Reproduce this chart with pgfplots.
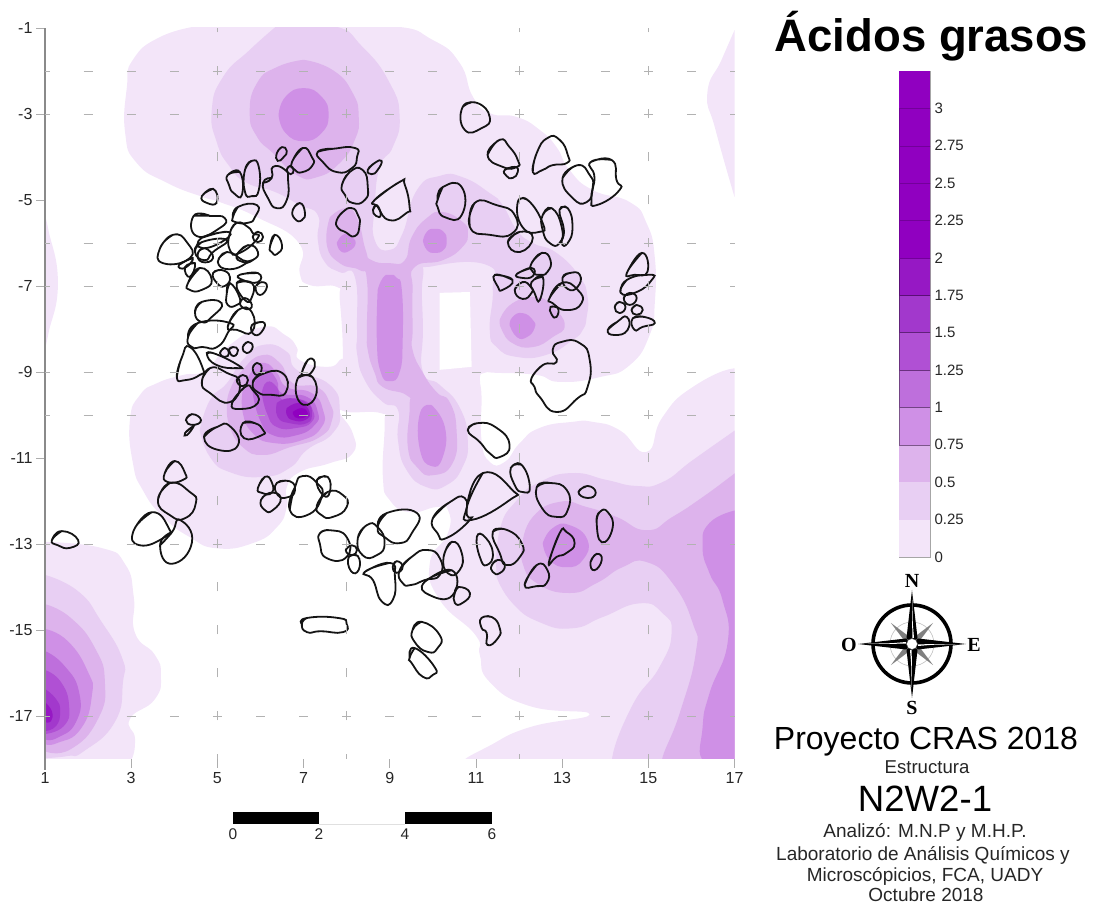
\documentclass[border=0pt]{standalone}
\usepackage{fontspec}
\setmainfont{Liberation Sans}
\newfontfamily\compassfont{Liberation Serif}
\usepackage{pgfplots}
\pgfplotsset{compat=1.18}
\definecolor{ca}{HTML}{F3E5F9}
\definecolor{cb}{HTML}{E8CFF3}
\definecolor{cc}{HTML}{DDB3EC}
\definecolor{cd}{HTML}{CF90E6}
\definecolor{ce}{HTML}{BE6FDC}
\definecolor{cf}{HTML}{B050D4}
\definecolor{cg}{HTML}{A238CC}
\definecolor{ch}{HTML}{9618C4}
\definecolor{ci}{HTML}{9000C0}
\definecolor{tickgray}{HTML}{8A8A8A}
\newcommand{\band}[2]{\addplot[fill=#1,draw=none,smooth,tension=0.9,forget plot] coordinates {#2};}
% a stone outline: the second point is repeated at the end so that the curve closes without a corner
\def\stone#1{\stonei#1\relax}
\def\stonei(#1)(#2)#3\relax{\addplot[black!92,line width=1.8pt,smooth,tension=1,forget plot] coordinates {(#1)(#2)#3(#2)};}
\newcommand{\fs}[1]{\fontsize{#1}{#1}\selectfont}
\begin{document}
\begin{tikzpicture}
\path[use as bounding box] (0,0) rectangle (1095pt,909pt);
\begin{axis}[
  at={(45pt,150pt)},anchor=south west,
  scale only axis,width=689.5pt,height=731pt,
  xmin=1,xmax=17,ymin=-18,ymax=-1,
  axis lines=left,
  axis line style={-,draw=tickgray,line width=1.3pt},
  x axis line style={draw=none},
  tick align=outside,
  axis on top,
  major tick length=9pt,
  tick style={draw=tickgray!70,line width=.6pt},
  xtick={1,3,5,7,9,11,13,15,17},
  xticklabels={1,3,5,7,9,11,13,15,17},
  ytick={-1,-3,-5,-7,-9,-11,-13,-15,-17},
  yticklabels={-1,-3,-5,-7,-9,-11,-13,-15,-17},
  yticklabel style={font=\fs{16},text=black!85},
  xticklabel style={font=\fs{16},text=black!85,yshift=-1pt},
  extra x ticks={5,8,12,15},
  extra x tick labels={},
  extra y ticks={-2,-3,-6,-7,-9,-10,-13,-17},
  extra y tick labels={},
  extra tick style={grid=major,tick style={draw=none}},
  major x grid style={draw=black!30,line width=.6pt,dash pattern=on 9pt off 34pt,dash phase=4.5pt},
  major y grid style={draw=black!30,line width=.6pt,dash pattern=on 9pt off 34.1pt,dash phase=4.5pt},
]
% ---- level 0 to 0.25
\band{ca}{(4.59,-0.95)(6.8,-0.95)(9.0,-0.95)(10.0,-1.28)(10.62,-1.81)(10.93,-2.6)(11.32,-2.98)(11.95,-3.07)(12.48,-3.37)(12.87,-3.77)(13.17,-4.3)(13.71,-4.77)(14.57,-5.05)(14.96,-5.54)(15.15,-6.33)(15.15,-7.4)(15.03,-8.14)(14.57,-8.84)(13.87,-9.12)(12.94,-9.23)(12.41,-9.07)(11.48,-9.02)(11.2,-9.02)(11.09,-9.15)(11.13,-9.58)(11.13,-10.58)(11.32,-11.09)(11.67,-11.09)(12.02,-10.65)(12.48,-10.3)(13.24,-10.16)(13.71,-10.16)(14.33,-10.35)(14.96,-10.86)(15.33,-10.05)(16.03,-9.35)(17.05,-8.91)(17.05,-9.3)(17.05,-17.8)(17.05,-18.07)(11.2,-18.07)(10.7,-18.07)(11.3,-17.7)(12.25,-17.26)(13.64,-16.96)(12.25,-16.77)(11.32,-16.21)(11.09,-15.58)(10.99,-15.12)(10.16,-14.3)(9.93,-13.44)(10.35,-12.75)(10.35,-12.21)(10.09,-12.14)(9.46,-12.26)(9,-11.98)(8.84,-11.44)(8.88,-10.2)(8.8,-9.96)(8.1,-9.94)(7.84,-9.93)(8.14,-10.42)(8.14,-10.89)(7.61,-11.12)(6.91,-11.33)(6.61,-11.68)(6.61,-12.14)(6.38,-12.61)(5.82,-12.98)(4.99,-13.1)(4.36,-12.84)(3.74,-12.37)(3.27,-11.75)(3.04,-11.12)(2.97,-10.12)(3.2,-9.54)(3.6,-9.26)(4.2,-9.07)(4.71,-8.96)(5.29,-8.37)(6.06,-7.95)(6.57,-8.14)(6.84,-8.42)(6.91,-8.72)(7.54,-8.88)(7.84,-8.72)(7.91,-8.49)(7.84,-7.33)(7.77,-7.02)(7.15,-6.98)(6.91,-6.7)(6.89,-6)(5.92,-5.4)(5.06,-5.05)(4.66,-4.93)(3.83,-4.6)(3.13,-4.14)(2.86,-3.44)(2.9,-2.37)(3.04,-1.74)(3.67,-1.21)(4.59,-0.95)}
\addplot[fill=white,draw=none,forget plot] coordinates {(10.16,-7.16)(10.86,-7.14)(10.9,-8.88)(10.16,-8.95)} --cycle;
\band{ca}{(1,-5.4)(1.08,-5.7)(1.3,-6.93)(1.08,-8.1)(1,-8.45)}
\band{ca}{(17,-1.05)(16.7,-1.74)(16.37,-2.51)(16.56,-3.37)(17,-4.93)}
\band{ca}{(0.95,-12.95)(2.3,-13.09)(2.86,-13.47)(3.06,-14.23)(3.09,-15.07)(3.55,-15.58)(3.69,-16.05)(3.55,-16.61)(2.97,-17.07)(3.09,-17.54)(2.97,-18.07)(2.7,-18.07)(0.95,-18.07)}
% ---- level 0.25 to 0.5
\band{cb}{(6.38,-0.95)(7.68,-0.95)(8.37,-1.44)(9,-2.28)(9.23,-3.07)(9.07,-3.77)(8.77,-4.23)(8.65,-5.16)(8.65,-5.93)(9,-6.16)(9.3,-5.77)(9.63,-4.77)(10.16,-4.44)(10.69,-4.47)(11.32,-4.84)(11.62,-5.12)(11.95,-5.7)(12.32,-6)(12.87,-6.23)(13.41,-6.79)(13.59,-7.26)(13.57,-7.72)(13.48,-8.02)(13.24,-8.26)(12.64,-8.6)(11.95,-8.65)(11.48,-8.42)(11.32,-8.02)(11.39,-7.09)(11.25,-6.51)(10,-6.54)(9.77,-6.8)(9.77,-8.02)(9.77,-9)(10.16,-9.3)(10.62,-9.82)(10.81,-10.58)(10.69,-11.21)(10.32,-11.63)(9.86,-11.68)(9.39,-11.28)(9.19,-10.58)(9.19,-9.88)(8.84,-9.7)(8.42,-9.19)(8.24,-8.56)(8.24,-8.02)(8.19,-6.79)(7.84,-6.68)(7.49,-6.44)(7.33,-5.93)(7.33,-5.35)(6.91,-5.12)(6.33,-4.81)(5.68,-4.6)(5.29,-4.23)(4.99,-3.67)(4.87,-2.91)(5.13,-2.14)(5.75,-1.51)(6.38,-0.95)}
\band{cb}{(4.59,-10.35)(4.83,-9.65)(5.22,-9.26)(5.59,-8.72)(6.06,-8.37)(6.61,-8.53)(6.84,-8.95)(7.61,-9.3)(7.84,-9.88)(7.68,-10.42)(7.08,-10.81)(6.68,-11.23)(6.06,-11.44)(5.29,-11.33)(4.83,-10.98)(4.59,-10.35)}
\band{cb}{(11.48,-13.77)(11.55,-12.68)(11.95,-11.98)(12.48,-11.56)(13.24,-11.35)(14.03,-11.51)(14.73,-11.65)(15.33,-11.56)(16.03,-11.05)(16.95,-10.4)(17.05,-10.33)(17.05,-10.7)(17.05,-17.8)(17.05,-18.07)(14.5,-18.07)(14.15,-18.07)(14.61,-16.79)(15.26,-15.86)(15.54,-15.07)(15.33,-14.61)(14.8,-14.38)(13.94,-14.7)(13.24,-14.96)(12.48,-14.82)(11.85,-14.38)(11.48,-13.77)}
\band{cb}{(1,-13.72)(1.77,-14.1)(2.3,-14.79)(2.79,-15.65)(2.81,-16.21)(2.62,-17.14)(1.9,-17.82)(1.53,-17.93)(1,-17.98)}
% ---- level 0.5 to 0.75
\band{cc}{(7.61,-5.4)(8,-5.19)(8.26,-5.47)(8.44,-6.16)(8.58,-6.4)(9,-6.47)(9.35,-6.4)(9.51,-5.86)(9.86,-5.42)(10.23,-5.28)(10.69,-5.51)(10.81,-5.77)(10.69,-6.09)(10.23,-6.4)(9.58,-6.56)(9.53,-7.09)(9.53,-8.02)(9.53,-8.49)(9.77,-9.02)(10.09,-9.47)(10.39,-9.7)(10.55,-10.35)(10.46,-11.12)(10,-11.4)(9.65,-11.23)(9.42,-10.75)(9.46,-9.82)(9.39,-9.54)(8.84,-9.35)(8.65,-9.02)(8.49,-8.49)(8.47,-8.02)(8.47,-6.86)(8.3,-6.63)(7.84,-6.47)(7.54,-6.05)(7.61,-5.4)}
\band{cc}{(11.55,-7.79)(11.85,-7.4)(12.41,-7.26)(12.78,-7.49)(13.06,-7.91)(12.78,-8.19)(12.32,-8.42)(11.85,-8.33)(11.6,-8.02)(11.55,-7.79)}
\band{cc}{(7,-1.74)(7.68,-1.98)(8.14,-2.51)(8.28,-3.07)(8.19,-3.6)(7.84,-4.14)(7.31,-4.47)(6.84,-4.42)(6.29,-3.91)(5.92,-3.53)(5.75,-2.98)(5.92,-2.28)(6.38,-1.91)(7,-1.74)}
\band{cc}{(5.22,-9.82)(5.29,-9.42)(5.59,-8.95)(6.03,-8.61)(6.45,-8.79)(6.75,-9.26)(7.31,-9.35)(7.61,-9.72)(7.66,-10.12)(7.38,-10.51)(6.68,-10.75)(6.06,-10.93)(5.59,-10.75)(5.29,-10.28)(5.22,-9.82)}
\band{cc}{(12.08,-12.98)(12.32,-12.37)(12.94,-12.02)(13.57,-12.14)(14.26,-12.37)(14.96,-12.68)(15.56,-12.37)(16.26,-11.91)(16.95,-11.4)(17.05,-11.33)(17.05,-11.7)(17.05,-17.8)(17.05,-18.07)(15.6,-18.07)(15.31,-18.07)(15.73,-16.93)(16.1,-15.54)(16.03,-14.84)(15.56,-13.91)(14.96,-13.42)(14.4,-13.54)(13.8,-13.91)(13.17,-14.14)(12.41,-13.91)(12.08,-13.44)(12.08,-12.98)}
\band{cc}{(1,-14.4)(1.6,-14.72)(2.16,-15.42)(2.39,-16.21)(2.23,-17.07)(1.6,-17.77)(1,-17.82)}
% ---- level 0.75 to 1
\band{cd}{(7.77,-6)(7.91,-5.81)(8.07,-5.84)(8.21,-6)(8.05,-6.19)(7.86,-6.19)(7.77,-6)}
\band{cd}{(9.77,-5.95)(9.86,-5.74)(10.04,-5.67)(10.25,-5.74)(10.32,-5.95)(10.25,-6.16)(10.04,-6.23)(9.86,-6.16)(9.77,-5.95)}
\band{cd}{(8.72,-7.09)(8.84,-6.81)(9,-6.74)(9.16,-6.81)(9.28,-7.09)(9.3,-8.26)(9.23,-9)(9,-9.21)(8.79,-9)(8.7,-8.26)(8.72,-7.09)}
\band{cd}{(9.97,-9.77)(10.28,-10.28)(10.23,-10.98)(9.97,-11.19)(9.7,-10.81)(9.7,-9.96)(9.97,-9.77)}
\band{cd}{(11.78,-7.91)(11.85,-7.72)(12.08,-7.63)(12.32,-7.79)(12.36,-7.98)(12.18,-8.19)(11.95,-8.19)(11.78,-7.91)}
\band{cd}{(6.42,-3.02)(6.58,-2.6)(7,-2.4)(7.42,-2.6)(7.58,-3.02)(7.42,-3.44)(7,-3.63)(6.58,-3.44)(6.42,-3.02)}
\band{cd}{(5.59,-9.42)(5.82,-8.95)(6.1,-8.79)(6.38,-9.02)(6.61,-9.35)(7.19,-9.49)(7.45,-9.88)(7.42,-10.28)(6.98,-10.58)(6.29,-10.65)(5.82,-10.42)(5.59,-9.95)(5.59,-9.42)}
\band{cd}{(17.05,-12.21)(16.42,-12.51)(16.26,-13.07)(16.42,-13.68)(16.72,-14.3)(16.84,-15.3)(16.42,-16.47)(16.26,-17.26)(16.3,-18.07)(17.05,-18.07)}
\band{cd}{(12.55,-12.98)(12.78,-12.63)(13.17,-12.56)(13.59,-12.91)(13.48,-13.37)(13.1,-13.54)(12.71,-13.37)(12.55,-12.98)}
\band{cd}{(1,-14.98)(1.53,-15.26)(2,-15.98)(2.09,-16.51)(1.83,-17.3)(1.28,-17.63)(1,-17.65)}
% ---- level 1 to 1.25
\band{ce}{(5.82,-9.49)(5.92,-9.12)(6.15,-8.95)(6.38,-9.19)(6.5,-9.49)(7.08,-9.58)(7.33,-9.93)(7.26,-10.23)(6.84,-10.47)(6.29,-10.47)(5.99,-10.12)(5.82,-9.49)}
\band{ce}{(1,-15.49)(1.44,-15.82)(1.79,-16.44)(1.72,-17.14)(1.28,-17.51)(1,-17.54)}
% ---- level 1.25 to 1.5
\band{cf}{(6.03,-9.49)(6.15,-9.23)(6.38,-9.35)(6.52,-9.65)(6.98,-9.65)(7.21,-9.88)(7.19,-10.16)(6.84,-10.3)(6.38,-10.28)(6.15,-9.96)(6.03,-9.49)}
\band{cf}{(1,-15.93)(1.37,-16.21)(1.56,-16.77)(1.44,-17.23)(1,-17.42)}
% ---- level 1.5 to 1.75
\band{cg}{(6.38,-9.72)(6.68,-9.61)(7.08,-9.72)(7.19,-9.96)(7.08,-10.19)(6.68,-10.19)(6.4,-10.05)(6.38,-9.72)}
\band{cg}{(1,-16.37)(1.26,-16.61)(1.35,-16.89)(1.26,-17.23)(1,-17.35)}
% ---- level 1.75 to 2
\band{ch}{(6.61,-9.84)(6.91,-9.72)(7.14,-9.93)(7.03,-10.12)(6.75,-10.12)(6.61,-10)(6.61,-9.84)}
\band{ch}{(1,-16.68)(1.16,-16.89)(1.14,-17.12)(1,-17.14)}
% ---- level above 2
\band{ci}{(6.75,-9.93)(6.96,-9.84)(7.1,-9.96)(6.98,-10.07)(6.8,-10.05)(6.75,-9.93)}
% ---- stones
\stone{(6.38,-3.91)(6.5,-3.77)(6.61,-3.86)(6.54,-4)(6.4,-4.09)(6.38,-3.91)}
\stone{(6.73,-4.12)(6.98,-3.79)(7.19,-4)(7.21,-4.19)(6.98,-4.35)(6.8,-4.3)(6.73,-4.12)}
\stone{(6.61,-4.3)(6.68,-4.21)(6.77,-4.3)(6.7,-4.4)(6.61,-4.3)}
\stone{(7.33,-3.88)(7.68,-3.81)(8.19,-3.79)(8.24,-4)(8.12,-4.26)(7.77,-4.35)(7.45,-4.12)(7.33,-3.88)}
\stone{(5.64,-4.3)(5.8,-4.09)(5.96,-4.23)(5.96,-4.77)(5.8,-4.91)(5.64,-4.81)(5.64,-4.3)}
\stone{(5.24,-4.42)(5.52,-4.35)(5.57,-4.88)(5.38,-4.84)(5.27,-4.65)(5.24,-4.42)}
\stone{(6.06,-4.6)(6.26,-4.49)(6.29,-4.23)(6.57,-4.3)(6.64,-4.53)(6.61,-5)(6.38,-5.19)(6.17,-4.95)(6.06,-4.6)}
\stone{(4.64,-4.91)(4.9,-4.74)(4.99,-5.05)(4.76,-5.07)(4.64,-4.91)}
\stone{(6.75,-5.23)(6.91,-5.07)(7.03,-5.28)(6.96,-5.47)(6.8,-5.44)(6.75,-5.23)}
\stone{(5.36,-5.4)(5.48,-5.16)(5.92,-5.12)(5.87,-5.4)(5.71,-5.53)(5.41,-5.51)(5.36,-5.4)}
\stone{(4.45,-5.37)(4.83,-5.37)(5.17,-5.42)(5.06,-5.65)(4.52,-5.84)(4.45,-5.37)}
\stone{(7.77,-5.47)(7.91,-5.28)(8.12,-5.19)(8.26,-5.35)(8.3,-5.58)(8.19,-5.84)(7.96,-5.74)(7.8,-5.65)(7.77,-5.47)}
\stone{(8.65,-5)(9.23,-4.58)(9.35,-4.65)(9.46,-5.16)(9.39,-5.3)(9,-5.47)(8.72,-5.16)(8.65,-5)}
\stone{(8.61,-5.23)(8.7,-5.12)(8.79,-5.35)(8.68,-5.37)(8.61,-5.23)}
\stone{(8.49,-4.3)(8.65,-4.14)(8.81,-4.09)(8.72,-4.3)(8.58,-4.4)(8.49,-4.3)}
\stone{(7.89,-4.65)(8.07,-4.35)(8.37,-4.3)(8.49,-4.7)(8.42,-5)(8.14,-5.07)(7.96,-4.88)(7.89,-4.65)}
\stone{(10.69,-2.84)(11.02,-2.74)(11.32,-3.07)(11.13,-3.33)(10.74,-3.37)(10.69,-2.84)}
\stone{(11.27,-3.95)(11.55,-3.6)(11.78,-3.77)(11.97,-4.07)(11.95,-4.23)(11.62,-4.23)(11.27,-3.95)}
\stone{(11.67,-4.3)(11.9,-4.23)(11.97,-4.35)(11.85,-4.49)(11.71,-4.44)(11.67,-4.3)}
\stone{(12.32,-4.35)(12.41,-3.91)(12.66,-3.56)(12.94,-3.6)(13.13,-3.95)(13.11,-4.14)(12.78,-4.19)(12.55,-4.3)(12.32,-4.35)}
\stone{(13.01,-4.49)(13.36,-4.19)(13.64,-4.42)(13.71,-4.7)(13.57,-5.05)(13.24,-4.95)(13.01,-4.49)}
\stone{(13.66,-4.12)(14.15,-4.07)(14.26,-4.53)(14.33,-4.77)(13.8,-5.12)(13.68,-4.95)(13.75,-4.47)(13.66,-4.12)}
\stone{(10.11,-5)(10.23,-4.7)(10.67,-4.7)(10.67,-5.35)(10.28,-5.4)(10.11,-5.16)(10.11,-5)}
\stone{(10.86,-5.63)(10.97,-5.07)(11.48,-5.12)(11.9,-5.35)(11.85,-5.77)(11.32,-5.81)(10.86,-5.63)}
\stone{(11.97,-5.05)(12.2,-5)(12.55,-5.54)(12.48,-5.74)(12.08,-5.63)(11.97,-5.05)}
\stone{(12.55,-5.35)(12.76,-5.19)(12.99,-5.63)(12.94,-6)(12.71,-6)(12.55,-5.7)(12.55,-5.35)}
\stone{(12.94,-5.23)(13.13,-5.19)(13.24,-5.63)(13.13,-6)(12.99,-6)(13.04,-5.7)(12.94,-5.23)}
\stone{(11.74,-5.98)(12.02,-5.74)(12.32,-5.88)(12.02,-6.21)(11.74,-5.98)}
\stone{(12.29,-6.47)(12.53,-6.23)(12.73,-6.4)(12.66,-6.67)(12.48,-6.74)(12.32,-6.67)(12.29,-6.47)}
\stone{(11.95,-6.72)(12.29,-6.58)(12.32,-6.77)(12.06,-6.81)(11.95,-6.72)}
\stone{(11.44,-6.74)(11.85,-6.86)(11.62,-7.09)(11.51,-7.02)(11.44,-6.74)}
\stone{(11.9,-7.09)(12.08,-6.91)(12.27,-7.02)(12.29,-7.16)(12.08,-7.3)(11.9,-7.09)}
\stone{(12.29,-6.91)(12.55,-6.79)(12.48,-7.33)(12.36,-7.16)(12.29,-6.91)}
\stone{(12.71,-7.28)(12.99,-6.93)(13.36,-7.09)(13.45,-7.4)(13.1,-7.56)(12.78,-7.4)(12.71,-7.28)}
\stone{(13.01,-6.81)(13.17,-6.7)(13.41,-6.74)(13.36,-7.02)(13.13,-7.07)(13.01,-6.81)}
\stone{(12.73,-7.49)(12.9,-7.51)(12.87,-7.72)(12.76,-7.67)(12.73,-7.49)}
\stone{(14.5,-6.7)(14.85,-6.23)(14.98,-6.67)(14.68,-6.74)(14.5,-6.7)}
\stone{(14.36,-7.16)(14.5,-6.86)(15.03,-6.74)(15.08,-6.86)(14.73,-7.14)(14.36,-7.16)}
\stone{(14.43,-7.28)(14.57,-7.16)(14.73,-7.28)(14.57,-7.44)(14.43,-7.28)}
\stone{(14.22,-7.49)(14.33,-7.37)(14.47,-7.49)(14.33,-7.63)(14.22,-7.49)}
\stone{(14.61,-7.56)(14.73,-7.44)(14.87,-7.56)(14.73,-7.67)(14.61,-7.56)}
\stone{(14.06,-8.02)(14.27,-7.84)(14.5,-7.72)(14.52,-8.02)(14.22,-8.14)(14.06,-8.02)}
\stone{(14.64,-7.75)(14.91,-7.72)(15.15,-7.86)(14.87,-7.95)(14.68,-8.02)(14.64,-7.75)}
\stone{(12.29,-9.14)(12.55,-8.84)(12.87,-8.77)(12.78,-8.49)(12.99,-8.3)(13.41,-8.33)(13.64,-8.72)(13.59,-9.35)(13.36,-9.61)(12.87,-9.93)(12.48,-9.58)(12.36,-9.35)(12.29,-9.14)}
\stone{(10.81,-10.35)(11.04,-10.19)(11.48,-10.3)(11.78,-10.7)(11.55,-10.98)(11.32,-10.89)(11.09,-10.63)(10.81,-10.35)}
\stone{(11.81,-11.23)(12.06,-11.16)(12.25,-11.68)(12.08,-11.79)(11.9,-11.63)(11.81,-11.23)}
\stone{(12.41,-11.68)(12.71,-11.58)(13.11,-11.75)(13.13,-12.21)(12.87,-12.37)(12.53,-12.16)(12.41,-11.68)}
\stone{(13.38,-11.79)(13.59,-11.65)(13.78,-11.81)(13.59,-11.93)(13.38,-11.79)}
\stone{(13.8,-12.49)(13.87,-12.26)(14.06,-12.26)(14.17,-12.63)(13.92,-12.96)(13.8,-12.49)}
\stone{(12.69,-13.44)(12.94,-12.75)(13.1,-12.72)(13.29,-12.98)(13.1,-13.21)(12.87,-13.3)(12.69,-13.44)}
\stone{(13.66,-13.42)(13.8,-13.23)(13.92,-13.37)(13.75,-13.61)(13.66,-13.42)}
\stone{(12.13,-13.95)(12.41,-13.49)(12.66,-13.61)(12.64,-13.91)(12.41,-13.98)(12.13,-13.95)}
\stone{(10.79,-12.14)(11.16,-11.35)(11.85,-11.75)(11.78,-11.98)(10.9,-12.44)(10.79,-12.14)}
\stone{(10,-12.4)(10.39,-12.03)(10.74,-11.93)(10.79,-12.33)(10.86,-12.44)(10.32,-12.86)(10.11,-12.75)(10,-12.4)}
\stone{(8.72,-12.61)(8.93,-12.28)(9.63,-12.28)(9.51,-12.75)(9.23,-12.98)(8.88,-12.84)(8.72,-12.61)}
\stone{(8.26,-12.86)(8.47,-12.56)(8.72,-12.61)(8.88,-12.98)(8.7,-13.26)(8.37,-13.26)(8.26,-12.86)}
\stone{(11.02,-12.84)(11.16,-12.79)(11.39,-13.19)(11.25,-13.49)(11.09,-13.3)(11.02,-12.84)}
\stone{(11.39,-12.72)(11.71,-12.67)(12.06,-12.98)(12.02,-13.3)(11.71,-13.49)(11.55,-13.21)(11.39,-12.72)}
\stone{(11.37,-13.49)(11.51,-13.37)(11.67,-13.49)(11.55,-13.68)(11.39,-13.65)(11.37,-13.49)}
\stone{(10.25,-13.3)(10.44,-12.95)(10.67,-13.21)(10.62,-13.61)(10.35,-13.68)(10.25,-13.3)}
\stone{(9.23,-13.61)(9.51,-13.3)(9.86,-13.14)(10.16,-13.33)(10.16,-13.72)(9.81,-13.84)(9.51,-13.95)(9.3,-13.91)(9.23,-13.61)}
\stone{(9.81,-13.88)(10.44,-13.61)(10.46,-14.19)(9.93,-14.19)(9.81,-13.88)}
\stone{(10.51,-14.14)(10.6,-14)(10.86,-14.14)(10.69,-14.37)(10.51,-14.37)(10.51,-14.14)}
\stone{(9.07,-13.53)(9.16,-13.4)(9.3,-13.53)(9.16,-13.67)(9.07,-13.53)}
\stone{(8.42,-13.65)(9,-13.44)(9.12,-13.77)(9.07,-14.3)(8.81,-14.33)(8.61,-13.84)(8.42,-13.65)}
\stone{(7.38,-12.75)(7.61,-12.68)(8,-12.84)(8,-13.3)(7.54,-13.33)(7.38,-13)(7.38,-12.75)}
\stone{(7.98,-13.14)(8.12,-13.03)(8.24,-13.14)(8.12,-13.26)(7.98,-13.14)}
\stone{(8.05,-13.3)(8.26,-13.28)(8.28,-13.6)(8.1,-13.63)(8.05,-13.3)}
\stone{(9.53,-15)(9.74,-14.81)(10.16,-15.12)(10.11,-15.42)(9.88,-15.51)(9.58,-15.28)(9.53,-15)}
\stone{(9.46,-15.65)(9.58,-15.42)(10.04,-15.86)(9.99,-16.05)(9.77,-16.09)(9.51,-15.77)(9.46,-15.65)}
\stone{(11.13,-14.72)(11.37,-14.7)(11.55,-14.95)(11.51,-15.19)(11.27,-15.35)(11.25,-15.07)(11.13,-14.95)(11.13,-14.72)}
\stone{(6.96,-14.86)(7.08,-14.72)(7.8,-14.72)(8,-14.86)(7.91,-15.05)(7.4,-15.03)(7.08,-15.05)(6.96,-14.86)}
\stone{(6.96,-9.02)(7.1,-8.72)(7.26,-8.77)(7.19,-9)(7.03,-9.07)(6.96,-9.02)}
\stone{(6.87,-9.14)(7.21,-9.12)(7.26,-9.61)(6.91,-9.7)(6.87,-9.14)}
\stone{(5.82,-9.26)(5.99,-9.07)(6.5,-9.02)(6.59,-9.47)(6.22,-9.53)(5.94,-9.47)(5.82,-9.26)}
\stone{(5.34,-9.72)(5.64,-9.35)(5.82,-9.42)(5.94,-9.72)(5.52,-9.86)(5.34,-9.72)}
\stone{(5.45,-9.19)(5.59,-9.07)(5.71,-9.19)(5.59,-9.33)(5.45,-9.19)}
\stone{(5.82,-8.91)(5.92,-8.79)(6.03,-8.91)(5.92,-9.07)(5.82,-8.91)}
\stone{(4.64,-9.23)(4.83,-8.91)(5.22,-9.02)(5.52,-9.26)(5.29,-9.7)(4.83,-9.49)(4.64,-9.23)}
\stone{(4.76,-8.6)(4.9,-8.56)(5.48,-8.84)(5.45,-8.91)(4.99,-8.84)(4.76,-8.6)}
\stone{(4.06,-9.12)(4.18,-8.65)(4.36,-8.42)(4.66,-8.91)(4.59,-9.07)(4.25,-9.19)(4.06,-9.12)}
\stone{(5.06,-8.56)(5.17,-8.44)(5.27,-8.56)(5.17,-8.65)(5.06,-8.56)}
\stone{(5.27,-8.49)(5.36,-8.42)(5.48,-8.49)(5.38,-8.63)(5.27,-8.49)}
\stone{(5.59,-8.42)(5.71,-8.3)(5.82,-8.42)(5.68,-8.56)(5.59,-8.42)}
\stone{(3.67,-6.12)(3.97,-5.81)(4.29,-5.98)(4.36,-6.35)(3.74,-6.47)(3.67,-6.12)}
\stone{(4.11,-6.51)(4.43,-6.35)(4.25,-6.58)(4.11,-6.51)}
\stone{(4.25,-6.56)(4.48,-6.47)(4.36,-6.79)(4.25,-6.56)}
\stone{(4.32,-6.93)(4.59,-6.58)(4.87,-6.86)(4.64,-7.09)(4.36,-7.09)(4.32,-6.93)}
\stone{(4.9,-6.7)(5.1,-6.63)(5.29,-6.79)(5.17,-7)(4.99,-6.93)(4.9,-6.7)}
\stone{(4.64,-5.88)(5.22,-5.74)(5.17,-5.93)(4.66,-6.12)(4.64,-5.88)}
\stone{(4.48,-6.21)(4.64,-5.98)(5.22,-5.93)(4.9,-6.21)(4.71,-6.4)(4.48,-6.21)}
\stone{(5.29,-5.77)(5.45,-5.53)(5.71,-5.63)(5.82,-5.77)(5.94,-5.88)(5.52,-6.23)(5.29,-6.16)(5.29,-5.77)}
\stone{(5.82,-5.86)(5.94,-5.74)(6.06,-5.86)(5.94,-5.98)(5.82,-5.86)}
\stone{(6.22,-6.09)(6.33,-5.81)(6.5,-6.05)(6.38,-6.26)(6.26,-6.21)(6.22,-6.09)}
\stone{(5.45,-6.28)(5.71,-6.05)(5.94,-6.21)(5.82,-6.4)(5.59,-6.44)(5.45,-6.28)}
\stone{(5.01,-6.44)(5.22,-6.21)(5.59,-6.4)(5.71,-6.44)(5.29,-6.61)(5.01,-6.44)}
\stone{(4.55,-6.23)(4.71,-6.12)(4.9,-6.35)(4.64,-6.44)(4.55,-6.23)}
\stone{(5.52,-6.74)(5.94,-6.7)(5.94,-6.91)(5.59,-6.86)(5.52,-6.74)}
\stone{(5.45,-6.93)(5.8,-6.93)(5.8,-7.26)(5.64,-7.33)(5.45,-6.93)}
\stone{(5.89,-7.02)(6.03,-6.91)(6.15,-7.02)(5.99,-7.21)(5.89,-7.02)}
\stone{(5.22,-7.16)(5.29,-6.93)(5.52,-7.28)(5.45,-7.44)(5.24,-7.44)(5.22,-7.16)}
\stone{(5.52,-7.4)(5.64,-7.28)(5.8,-7.44)(5.68,-7.54)(5.52,-7.4)}
\stone{(4.48,-7.61)(4.64,-7.37)(5.1,-7.4)(4.87,-7.72)(4.64,-7.84)(4.48,-7.61)}
\stone{(5.24,-7.95)(5.48,-7.56)(5.8,-7.61)(5.8,-8.07)(5.45,-8.02)(5.24,-7.95)}
\stone{(5.8,-7.91)(6.06,-7.84)(6.06,-8.02)(5.87,-8.14)(5.8,-7.91)}
\stone{(4.32,-8.19)(4.55,-7.86)(5.29,-7.86)(5.24,-8.09)(4.99,-8.42)(4.66,-8.42)(4.41,-8.42)(4.32,-8.19)}
\stone{(4.27,-10.12)(4.41,-9.98)(4.62,-10.12)(4.43,-10.23)(4.27,-10.12)}
\stone{(4.25,-10.42)(4.41,-10.28)(4.43,-10.3)(4.29,-10.47)(4.25,-10.42)}
\stone{(4.69,-10.51)(4.99,-10.28)(5.29,-10.26)(5.48,-10.7)(5.01,-10.81)(4.69,-10.51)}
\stone{(5.59,-10.19)(5.87,-10.19)(6.06,-10.35)(6.03,-10.47)(5.62,-10.54)(5.59,-10.19)}
\stone{(3.78,-11.35)(4.01,-11.07)(4.25,-11.35)(4.2,-11.51)(3.85,-11.56)(3.78,-11.35)}
\stone{(3.62,-11.98)(3.9,-11.58)(4.36,-11.79)(4.5,-12.05)(4.25,-12.4)(3.9,-12.33)(3.62,-11.98)}
\stone{(3.06,-12.68)(3.48,-12.26)(3.87,-12.63)(3.78,-12.84)(3.2,-13.03)(3.06,-12.68)}
\stone{(3.67,-13.03)(3.95,-12.72)(4.13,-12.44)(4.41,-12.96)(3.95,-13.46)(3.67,-13.03)}
\stone{(5.94,-11.7)(6.1,-11.44)(6.26,-11.56)(6.26,-11.81)(6.03,-11.81)(5.94,-11.7)}
\stone{(6.01,-11.98)(6.22,-11.81)(6.47,-11.93)(6.29,-12.21)(6.1,-12.21)(6.01,-11.98)}
\stone{(6.38,-11.58)(6.68,-11.54)(6.8,-11.75)(6.64,-11.91)(6.4,-11.86)(6.38,-11.58)}
\stone{(6.68,-12.21)(6.8,-11.68)(6.98,-11.42)(7.31,-11.58)(7.42,-11.91)(7.08,-12.33)(6.68,-12.21)}
\stone{(7.31,-11.51)(7.56,-11.44)(7.61,-11.79)(7.45,-11.86)(7.31,-11.51)}
\stone{(7.31,-12.1)(7.56,-11.79)(7.91,-11.86)(8,-12.14)(7.68,-12.37)(7.42,-12.33)(7.31,-12.1)}
\stone{(1.16,-12.91)(1.39,-12.7)(1.77,-12.91)(1.58,-13.09)(1.3,-13.03)(1.16,-12.91)}
\end{axis}
% ---- colour bar
\begin{axis}[
  at={(899pt,352pt)},anchor=south west,
  scale only axis,width=31pt,height=486pt,
  xmin=0,xmax=1,ymin=0,ymax=3.25,
  xtick=\empty,
  ytick={0,0.25,0.5,0.75,1,1.25,1.5,1.75,2,2.25,2.5,2.75,3},
  yticklabels={0,0.25,0.5,0.75,1,1.25,1.5,1.75,2,2.25,2.5,2.75,3},
  ytick pos=right,
  major tick length=0pt,
  yticklabel style={font=\fs{15},text=black!85,xshift=1pt},
  axis line style={draw=black!35,line width=.6pt},
]
\addplot[fill=ca,draw=none] coordinates {(0,0)(1,0)(1,0.25)(0,0.25)} --cycle;
\addplot[fill=cb,draw=none] coordinates {(0,0.25)(1,0.25)(1,0.5)(0,0.5)} --cycle;
\addplot[fill=cc,draw=none] coordinates {(0,0.5)(1,0.5)(1,0.75)(0,0.75)} --cycle;
\addplot[fill=cd,draw=black!40!cd,line width=.5pt] coordinates {(0,0.75)(1,0.75)(1,1)(0,1)} --cycle;
\addplot[fill=ce,draw=black!40!ce,line width=.5pt] coordinates {(0,1)(1,1)(1,1.25)(0,1.25)} --cycle;
\addplot[fill=cf,draw=black!40!cf,line width=.5pt] coordinates {(0,1.25)(1,1.25)(1,1.5)(0,1.5)} --cycle;
\addplot[fill=cg,draw=black!40!cg,line width=.5pt] coordinates {(0,1.5)(1,1.5)(1,1.75)(0,1.75)} --cycle;
\addplot[fill=ch,draw=black!40!ch,line width=.5pt] coordinates {(0,1.75)(1,1.75)(1,2)(0,2)} --cycle;
\addplot[fill=ci,draw=black!20!ci,line width=.5pt] coordinates {(0,2)(1,2)(1,2.25)(0,2.25)} --cycle;
\addplot[fill=ci,draw=black!20!ci,line width=.5pt] coordinates {(0,2.25)(1,2.25)(1,2.5)(0,2.5)} --cycle;
\addplot[fill=ci,draw=black!20!ci,line width=.5pt] coordinates {(0,2.5)(1,2.5)(1,2.75)(0,2.75)} --cycle;
\addplot[fill=ci,draw=black!20!ci,line width=.5pt] coordinates {(0,2.75)(1,2.75)(1,3)(0,3)} --cycle;
\addplot[fill=ci,draw=none] coordinates {(0,3)(1,3)(1,3.25)(0,3.25)} --cycle;
\end{axis}
% ---- decoration, in image pixels
\begin{scope}[shift={(0pt,909pt)},x=1pt,y=-1pt]
\draw[tickgray,line width=1.3pt] (45,759)--(45,770);
\node[anchor=base,inner sep=0pt] at (931.5,52) {\fs{45.5}\bfseries Ácidos grasos};
\node[anchor=base,inner sep=0pt] at (926,750) {\fs{32}Proyecto CRAS 2018};
\node[anchor=base,inner sep=0pt] at (927,774) {\fs{18.6}\color{black!85}Estructura};
\node[anchor=base,inner sep=0pt] at (925,812) {\fs{36.6}N2W2-1};
\node[anchor=base,inner sep=0pt] at (925,838) {\fs{19}\color{black!85}Analizó: M.N.P y M.H.P.};
\node[anchor=base,inner sep=0pt] at (923,861) {\fs{19}\color{black!85}Laboratorio de Análisis Químicos y};
\node[anchor=base,inner sep=0pt] at (925,882) {\fs{19}\color{black!85}Microscópicios, FCA, UADY};
\node[anchor=base,inner sep=0pt] at (926,902) {\fs{19}\color{black!85}Octubre 2018};
% scale bar
\fill[black] (233,812) rectangle (319,824);
\fill[black] (405,812) rectangle (492,824);
\draw[black!12,line width=.6pt] (319,824)--(405,824);
\foreach \xx/\lab in {233/0,319/2,405/4,492/6}
  \node[inner sep=0pt] at (\xx,834) {\fs{15.5}\color{black!85}\lab};
% compass
\begin{scope}[shift={(912,644)}]
\draw[black!25,line width=.6pt] (0,0) circle (22);
\foreach \a in {45,135,225,315}
  \fill[black!50,rotate=\a] (30,0)--(5,3.5)--(5,-3.5)--cycle;
\draw[black,line width=3.6pt] (0,0) circle (39);
\foreach \a in {0,90,180,270} {
  \fill[black,rotate=\a] (54,0)--(6,-5.5)--(0,0)--(6,5.5)--cycle;
  \fill[white,rotate=\a] (54,0)--(20,0.8)--(6,2)--(6,0.3)--cycle;
}
\fill[white] (0,0) circle (5.5);
\draw[black!70,line width=.5pt] (0,0) circle (5.5);
\end{scope}
\node[inner sep=0pt] at (912,581) {\fs{20}\compassfont\bfseries N};
\node[inner sep=0pt] at (912,708) {\fs{20}\compassfont\bfseries S};
\node[inner sep=0pt] at (849,645) {\fs{20}\compassfont\bfseries O};
\node[inner sep=0pt] at (974,645) {\fs{20}\compassfont\bfseries E};
\end{scope}
\end{tikzpicture}
\end{document}
